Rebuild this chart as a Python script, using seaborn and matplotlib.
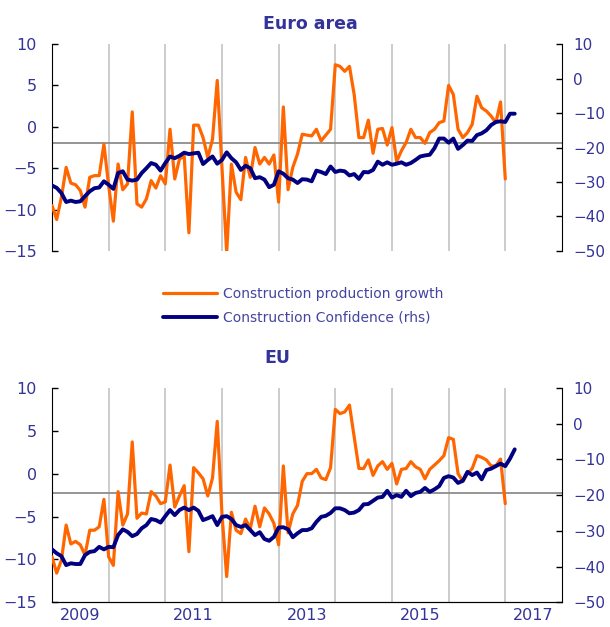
import numpy as np
import pandas as pd
import matplotlib
matplotlib.use("Agg")
import matplotlib.pyplot as plt
from matplotlib.lines import Line2D
import seaborn as sns

# Euro area - qurilish ishlab chiqarishi (y/y, %) va ishonch indeksi (rhs)
ea_prod = [-9.5, -11.2, -8.5, -4.9, -6.8, -7.0, -7.7, -9.7, -6.1, -5.9, -5.9, -2.1,
           -7.1, -11.4, -4.5, -7.6, -6.9, 1.8, -9.3, -9.7, -8.7, -6.5, -7.4, -5.9,
           -6.9, -0.3, -6.3, -3.9, -3.5, -12.8, 0.2, 0.2, -1.3, -3.7, -1.5, 5.6,
           -4.9, -15.2, -4.5, -7.9, -8.8, -3.7, -6.1, -2.5, -4.5, -3.7, -4.5, -3.4,
           -9.1, 2.4, -7.6, -4.9, -3.3, -0.9, -1.0, -1.1, -0.3, -1.7, -1.0, -0.3,
           7.5, 7.3, 6.7, 7.3, 3.9, -1.3, -1.3, 0.8, -3.2, -0.3, -0.2, -2.2,
           -0.1, -4.2, -2.9, -1.9, -0.3, -1.3, -1.3, -2.0, -0.7, -0.3, 0.5, 0.7,
           5.0, 3.9, -0.3, -1.3, -0.7, 0.3, 3.7, 2.3, 1.9, 1.3, 0.5, 3.0, -6.3]
ea_conf = [-31.0, -31.7, -33.2, -35.8, -35.4, -35.8, -35.6, -34.1, -32.7, -31.8, -31.6, -29.8,
           -30.8, -32.0, -27.4, -26.9, -29.3, -29.6, -29.3, -27.4, -26.0, -24.5, -25.0, -26.7,
           -24.5, -22.6, -23.1, -22.4, -21.5, -21.9, -21.7, -21.5, -24.8, -23.6, -22.6, -24.7,
           -23.6, -21.4, -23.1, -24.3, -26.5, -25.3, -26.0, -28.9, -28.6, -29.3, -31.5, -30.8,
           -26.9, -27.6, -28.9, -29.3, -30.3, -29.2, -29.3, -29.8, -26.7, -27.1, -27.7, -25.5,
           -27.1, -26.7, -26.9, -28.1, -27.7, -29.1, -27.1, -27.2, -26.5, -24.1, -25.0, -24.3,
           -25.0, -24.7, -24.3, -25.0, -24.5, -23.6, -22.6, -22.3, -22.1, -20.2, -17.4, -17.4,
           -18.6, -17.4, -20.4, -19.3, -18.0, -18.1, -16.4, -15.9, -15.0, -13.5, -12.6, -12.4,
           -12.6, -10.2, -10.2]

# EU
eu_prod = [-9.7, -11.6, -10.1, -6.0, -8.2, -7.9, -8.3, -9.5, -6.6, -6.6, -6.2, -3.0,
           -9.7, -10.7, -2.1, -6.0, -4.7, 3.7, -5.2, -4.6, -4.7, -2.1, -2.6, -3.5,
           -3.3, 1.0, -3.9, -2.6, -1.4, -9.1, 0.7, 0.1, -0.6, -2.6, -0.5, 6.1,
           -4.7, -12.0, -4.5, -6.6, -7.0, -5.3, -6.4, -3.8, -6.2, -4.0, -4.7, -5.8,
           -8.3, 0.9, -6.9, -4.7, -3.7, -0.9, 0.0, 0.0, 0.5, -0.5, -0.7, 0.7,
           7.5, 7.0, 7.2, 8.0, 4.3, 0.6, 0.6, 1.6, -0.2, 0.9, 1.4, 0.5,
           1.2, -1.2, 0.5, 0.6, 1.4, 0.8, 0.5, -0.6, 0.5, 1.0, 1.5, 2.1,
           4.2, 4.0, 0.0, -0.9, 0.0, 0.6, 2.1, 1.9, 1.6, 0.9, 0.9, 1.7, -3.5]
eu_conf = [-35.2, -36.3, -37.1, -39.6, -39.1, -39.3, -39.3, -36.8, -35.9, -35.7, -34.5, -35.2,
           -34.5, -34.6, -31.2, -29.6, -30.3, -31.5, -30.9, -29.3, -28.4, -26.7, -27.0, -27.7,
           -25.9, -24.2, -25.6, -24.2, -23.5, -24.2, -23.5, -24.4, -27.0, -26.5, -25.9, -28.4,
           -26.1, -25.9, -26.7, -28.4, -28.9, -28.4, -29.8, -31.2, -30.4, -32.3, -32.8, -31.7,
           -29.1, -29.0, -29.6, -31.8, -30.7, -29.8, -29.8, -29.3, -27.5, -26.1, -25.8, -25.0,
           -23.7, -23.7, -24.2, -25.1, -24.9, -24.2, -22.6, -22.5, -21.6, -20.7, -20.5, -18.8,
           -20.7, -20.0, -20.5, -18.8, -20.3, -19.4, -19.1, -18.0, -19.1, -18.4, -17.5, -15.2,
           -14.7, -15.1, -16.6, -16.0, -13.5, -14.4, -13.7, -15.6, -13.0, -12.6, -11.9, -11.2,
           -11.9, -9.8, -7.2]

# gorizontal chiziq (chap o'q bo'yicha)
ea_ref = -1.9
eu_ref = -2.25

year_labels = ["2009", "2011", "2013", "2015", "2017"]
left_ticks = [-15, -10, -5, 0, 5, 10]
right_ticks = [-50, -40, -30, -20, -10, 0, 10]

ORANGE = "#FF6600"
NAVY = "#000080"
TXT = "#333399"

sns.set_style("white")
plt.rcParams["font.family"] = ["DejaVu Sans"]


def panel(rect, prod, conf, ref, bottom):
    ax = fig.add_axes(rect)
    t_p = 2009 + np.arange(len(prod)) / 12
    t_c = 2009 + np.arange(len(conf)) / 12
    for yr in range(2010, 2018):
        ax.axvline(yr, color="#C8C8C8", lw=1.3, zorder=0)
    ax.axhline(ref, color="#8C8C8C", lw=1.3, zorder=1)
    sns.lineplot(x=t_p, y=prod, ax=ax, color=ORANGE, lw=2.3, zorder=3)
    ax.set_xlim(2009, 2018)
    ax.set_ylim(-15, 10)
    ax.set_yticks(left_ticks)
    ax.tick_params(axis="y", direction="in", length=4, width=1, colors="black",
                   labelcolor=TXT, labelsize=11.5, pad=11)
    ax.set_xticks([2009.5, 2011.5, 2013.5, 2015.5, 2017.5])
    if bottom:
        ax.set_xticklabels(year_labels)
        ax.tick_params(axis="x", length=0, labelcolor=TXT, labelsize=11.5, pad=4)
    else:
        ax.set_xticklabels([])
        ax.tick_params(axis="x", length=0)
    axr = ax.twinx()
    sns.lineplot(x=t_c, y=conf, ax=axr, color=NAVY, lw=2.8, zorder=4)
    axr.set_xlim(2009, 2018)
    axr.set_ylim(-50, 10)
    axr.set_yticks(right_ticks)
    axr.tick_params(axis="y", direction="in", length=4, width=1, colors="black",
                    labelcolor=TXT, labelsize=11, pad=8)
    for a in (ax, axr):
        a.set_ylabel("")
        a.spines["top"].set_visible(False)
        a.spines["bottom"].set_visible(bottom)
        a.spines["bottom"].set_color("black")
    ax.spines["right"].set_visible(False)
    axr.spines["left"].set_visible(False)
    ax.spines["left"].set_color("black")
    axr.spines["right"].set_color("black")
    return ax, axr


fig = plt.figure(figsize=(6.1, 6.27), dpi=100)

panel([0.0852, 0.5997, 0.836, 0.3301], ea_prod, ea_conf, ea_ref, False)
panel([0.0852, 0.0395, 0.836, 0.3418], eu_prod, eu_conf, eu_ref, True)

fig.text(0.508, 1 - 24 / 627, "Euro area", ha="center", va="center",
         fontsize=12.5, fontweight="bold", color=TXT)
fig.text(0.454, 1 - 358 / 627, "EU", ha="center", va="center",
         fontsize=12.5, fontweight="bold", color=TXT)

handles = [Line2D([], [], color=ORANGE, lw=2.3), Line2D([], [], color=NAVY, lw=2.8)]
fig.legend(handles, ["Construction production growth", "Construction Confidence (rhs)"],
           loc="center left", bbox_to_anchor=(163 / 610, 1 - 306 / 627),
           frameon=False, fontsize=10, labelcolor="#4444A0", handlelength=3.9,
           handletextpad=0.4, labelspacing=0.7, borderpad=0, borderaxespad=0)

fig.savefig("out.png", dpi=100)
